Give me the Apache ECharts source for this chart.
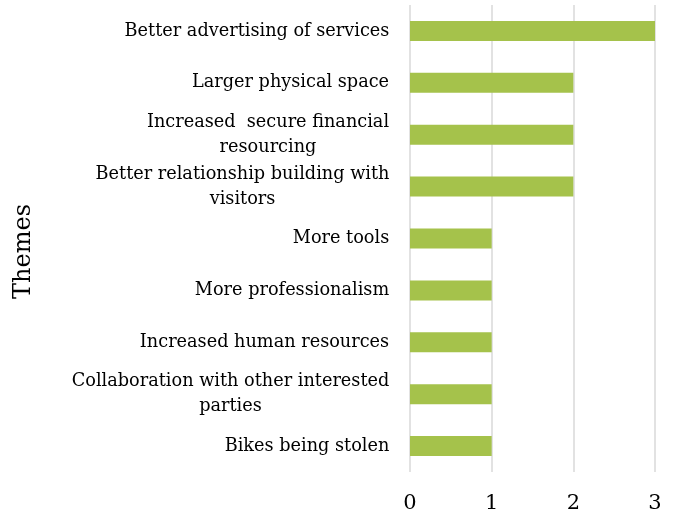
<!DOCTYPE html>
<html>
<head>
<meta charset="utf-8">
<script src="https://cdn.jsdelivr.net/npm/echarts@6/dist/echarts.min.js"></script>
<style>html,body{margin:0;padding:0;background:#fff;}#c{width:673px;height:515px;}</style>
</head>
<body>
<div id="c"></div>
<script>
const categories = [
  "Better advertising of services",
  "Larger physical space",
  "Increased  secure financial\nresourcing",
  "Better relationship building with\nvisitors",
  "More tools",
  "More professionalism",
  "Increased human resources",
  "Collaboration with other interested\nparties",
  "Bikes being stolen"
];
const values = [3, 2, 2, 2, 1, 1, 1, 1, 1];
const xTicks = [0, 1, 2, 3];
const axisTitle = "Themes";

const FONT = "DejaVu Serif";
const LABEL_SIZE = 17.7;

// measure widest line of each label so lines can be centred within the block
const ctx = document.createElement('canvas').getContext('2d');
ctx.font = LABEL_SIZE + 'px "' + FONT + '"';
const rich = {};
categories.forEach((c, i) => {
  const w = Math.max(...c.split('\n').map(s => ctx.measureText(s).width));
  rich['l' + i] = {width: Math.ceil(w) + 1, align: 'center', fontFamily: FONT, fontSize: LABEL_SIZE, color: '#000', lineHeight: 25};
});

const chart = echarts.init(document.getElementById('c'), null, {renderer: 'canvas'});
chart.setOption({
  animation: false,
  backgroundColor: '#fff',
  grid: {left: 410, right: 18, top: 5, bottom: 43, containLabel: false},
  xAxis: {
    type: 'value', min: xTicks[0], max: xTicks[xTicks.length - 1], interval: 1,
    axisLine: {show: false}, axisTick: {show: false},
    splitLine: {show: true, lineStyle: {color: '#d9d9d9', width: 1.5}},
    axisLabel: {fontFamily: FONT, fontSize: 21, color: '#000', margin: 21}
  },
  yAxis: {
    type: 'category', data: categories, inverse: true,
    axisLine: {show: false}, axisTick: {show: false},
    axisLabel: {
      fontFamily: FONT, fontSize: LABEL_SIZE, color: '#000', margin: 20, align: 'right',
      formatter: (v, i) => v.split('\n').map(s => '{l' + i + '|' + s + '}').join('\n'),
      rich: rich
    },
    name: axisTitle, nameLocation: 'middle', nameRotate: 90, nameGap: 374,
    nameTextStyle: {fontFamily: FONT, fontSize: 24, color: '#000', padding: [0, 26, 0, 0]}
  },
  series: [{
    type: 'bar', data: values, barWidth: 20,
    itemStyle: {color: '#a5c24b'}
  }]
});
</script>
</body>
</html>
